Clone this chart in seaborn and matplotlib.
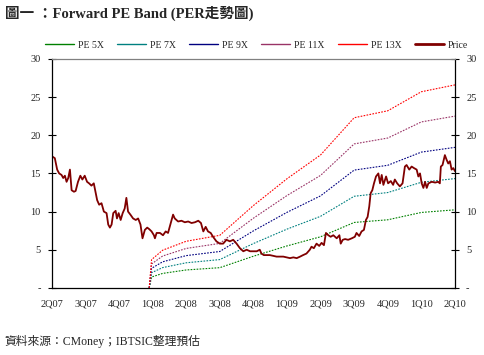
import numpy as np
import pandas as pd
import matplotlib
matplotlib.use("Agg")
import matplotlib.pyplot as plt
from matplotlib.lines import Line2D
import seaborn as sns

## DATA
# x axis: quarters since 2Q07 (0 = 2Q07 ... 12 = 2Q10)
quarter_labels = ["2Q07", "3Q07", "4Q07", "1Q08", "2Q08", "3Q08", "4Q08",
                  "1Q09", "2Q09", "3Q09", "4Q09", "1Q10", "2Q10"]

# price
price_q = [0.02, 0.09, 0.16, 0.22, 0.29, 0.34, 0.39, 0.44, 0.49, 0.54, 0.59, 0.66, 0.71, 0.78,
           0.85, 0.91, 0.98, 1.05, 1.11, 1.18, 1.25, 1.31, 1.35, 1.41, 1.48, 1.55, 1.63, 1.68,
           1.73, 1.78, 1.83, 1.90, 1.94, 1.99, 2.05, 2.11, 2.17, 2.22, 2.27, 2.34, 2.42, 2.50,
           2.57, 2.64, 2.70, 2.77, 2.84, 2.90, 2.97, 3.04, 3.07, 3.12, 3.22, 3.31, 3.39, 3.46,
           3.54, 3.61, 3.66, 3.76, 3.86, 3.96, 4.06, 4.16, 4.26, 4.36, 4.44, 4.51, 4.58, 4.65,
           4.73, 4.80, 4.90, 5.00, 5.10, 5.20, 5.30, 5.40, 5.50, 5.60, 5.70, 5.80, 5.90, 5.99,
           6.10, 6.19, 6.24, 6.31, 6.39, 6.49, 6.59, 6.69, 6.79, 6.89, 6.99, 7.09, 7.19, 7.29,
           7.39, 7.48, 7.58, 7.68, 7.73, 7.80, 7.88, 7.96, 8.03, 8.10, 8.16, 8.23, 8.30, 8.38,
           8.48, 8.56, 8.60, 8.66, 8.73, 8.82, 8.93, 9.02, 9.07, 9.15, 9.22, 9.29, 9.35, 9.40,
           9.45, 9.49, 9.54, 9.59, 9.65, 9.72, 9.77, 9.82, 9.87, 9.95, 10.01, 10.09, 10.16,
           10.21, 10.28, 10.36, 10.44, 10.51, 10.56, 10.64, 10.71, 10.78, 10.86, 10.91, 10.96,
           11.01, 11.06, 11.11, 11.16, 11.21, 11.31, 11.41, 11.50, 11.55, 11.58, 11.63, 11.70,
           11.75, 11.80, 11.85, 11.90, 11.95, 12.0]
price = [17.2, 17.0, 15.5, 15.0, 14.8, 14.4, 14.7, 13.9, 14.4, 15.5, 12.8, 12.6, 12.7, 13.9,
         14.7, 14.2, 14.7, 13.9, 13.7, 13.4, 13.7, 12.4, 11.5, 10.9, 11.1, 10.0, 9.8, 8.3,
         7.9, 8.3, 9.8, 10.1, 9.1, 9.8, 8.9, 9.8, 10.4, 11.8, 10.0, 9.6, 9.1, 8.9,
         9.1, 8.3, 6.5, 7.6, 7.9, 7.7, 7.4, 6.9, 6.5, 7.2, 7.2, 6.9, 7.4, 7.2,
         8.5, 9.6, 9.1, 8.7, 8.8, 8.6, 8.7, 8.5, 8.6, 8.8, 8.5, 7.4, 8.0, 7.4,
         7.2, 6.7, 6.1, 5.8, 5.8, 6.3, 6.1, 6.3, 5.8, 5.2, 4.8, 5.0, 4.8, 4.8,
         4.8, 5.0, 4.5, 4.3, 4.3, 4.3, 4.2, 4.1, 4.1, 4.1, 4.0, 3.9, 4.0, 3.9,
         4.1, 4.3, 4.5, 5.0, 5.4, 5.2, 5.8, 5.5, 5.9, 5.6, 7.2, 6.9, 6.7, 6.9,
         6.5, 6.9, 5.8, 6.3, 6.4, 6.3, 6.5, 6.7, 7.2, 6.8, 7.4, 7.6, 8.9, 9.3,
         10.7, 12.4, 12.8, 13.7, 14.6, 15.0, 13.7, 14.8, 13.5, 14.6, 13.7, 14.0, 13.5,
         14.2, 13.7, 13.3, 13.7, 15.9, 16.1, 15.5, 15.9, 15.7, 15.5, 14.6, 15.0,
         13.7, 13.1, 13.9, 13.1, 13.7, 13.9, 13.8, 13.9, 13.7, 15.9, 16.1, 17.4,
         16.8, 16.3, 16.6, 15.5, 15.7, 15.3]

# forward EPS knots behind the PE bands
eps_q = [2.90, 2.97, 3.30, 4.0, 5.0, 6.0, 7.0, 8.0, 9.0, 10.0, 11.0, 12.0]
eps = [0.0, 0.285, 0.38, 0.47, 0.53, 0.83, 1.10, 1.34, 1.715, 1.785, 1.977, 2.046]

multiples = [5, 7, 9, 11, 13]
band_colors = ["#008000", "#008080", "#000080", "#993366", "#FF0000"]
price_color = "#800000"

## PLOT
sns.set_style("white")
serif = ["Liberation Serif", "Noto Sans CJK TC"]
plt.rcParams["font.family"] = serif

fig = plt.figure(figsize=(4.84, 3.55), dpi=100)
ax = fig.add_axes([0.107, 0.189, 0.833, 0.645])

bands = pd.DataFrame({"q": eps_q, "eps": eps})
for m, c in zip(multiples, band_colors):
    sns.lineplot(x=bands["q"], y=bands["eps"] * m, ax=ax, color=c,
                 linewidth=0.8, linestyle=(0, (1.5, 1.2)), legend=False)

sns.lineplot(x=price_q, y=price, ax=ax, color=price_color, linewidth=1.3, legend=False)

ax.set_xlim(0, 12)
ax.set_ylim(0, 30)
ax.set_xticks(range(len(quarter_labels)))
ax.set_xticklabels(quarter_labels, fontsize=7.5)
yt = [0, 5, 10, 15, 20, 25, 30]
ylabels = ["-" if v == 0 else str(v) for v in yt]
ax.set_yticks(yt)
ax.set_yticklabels(ylabels, fontsize=7.5)
ax.set_xlabel("")
ax.set_ylabel("")
ax.tick_params(axis="x", direction="in", length=3, width=0.8, pad=8, color="black")
ax.tick_params(axis="y", direction="inout", length=6, width=0.8, pad=5,
               left=True, right=True, labelleft=True, labelright=True, color="black")
for s in ["left", "right", "bottom"]:
    ax.spines[s].set_color("black")
    ax.spines[s].set_linewidth(0.9)
ax.spines["top"].set_color("#808080")
ax.spines["top"].set_linewidth(0.9)

handles = [Line2D([], [], color=c, linewidth=1) for c in band_colors]
handles.append(Line2D([], [], color=price_color, linewidth=2))
labels = ["PE %dX" % m for m in multiples] + ["Price"]
fig.legend(handles, labels, loc="center", bbox_to_anchor=(0.53, 0.873), ncol=6,
           frameon=False, fontsize=7, handlelength=3.0, handletextpad=0.4,
           columnspacing=1.35)

fig.text(0.01, 0.963, "圖一 ：Forward PE Band (PER走勢圖)", fontsize=10.5, fontweight="bold",
         family=serif, va="center", ha="left")
fig.text(0.01, 0.037, "資料來源：CMoney；IBTSIC整理預估", fontsize=8.5,
         family=serif, va="center", ha="left")

fig.savefig("out.png", dpi=100)
